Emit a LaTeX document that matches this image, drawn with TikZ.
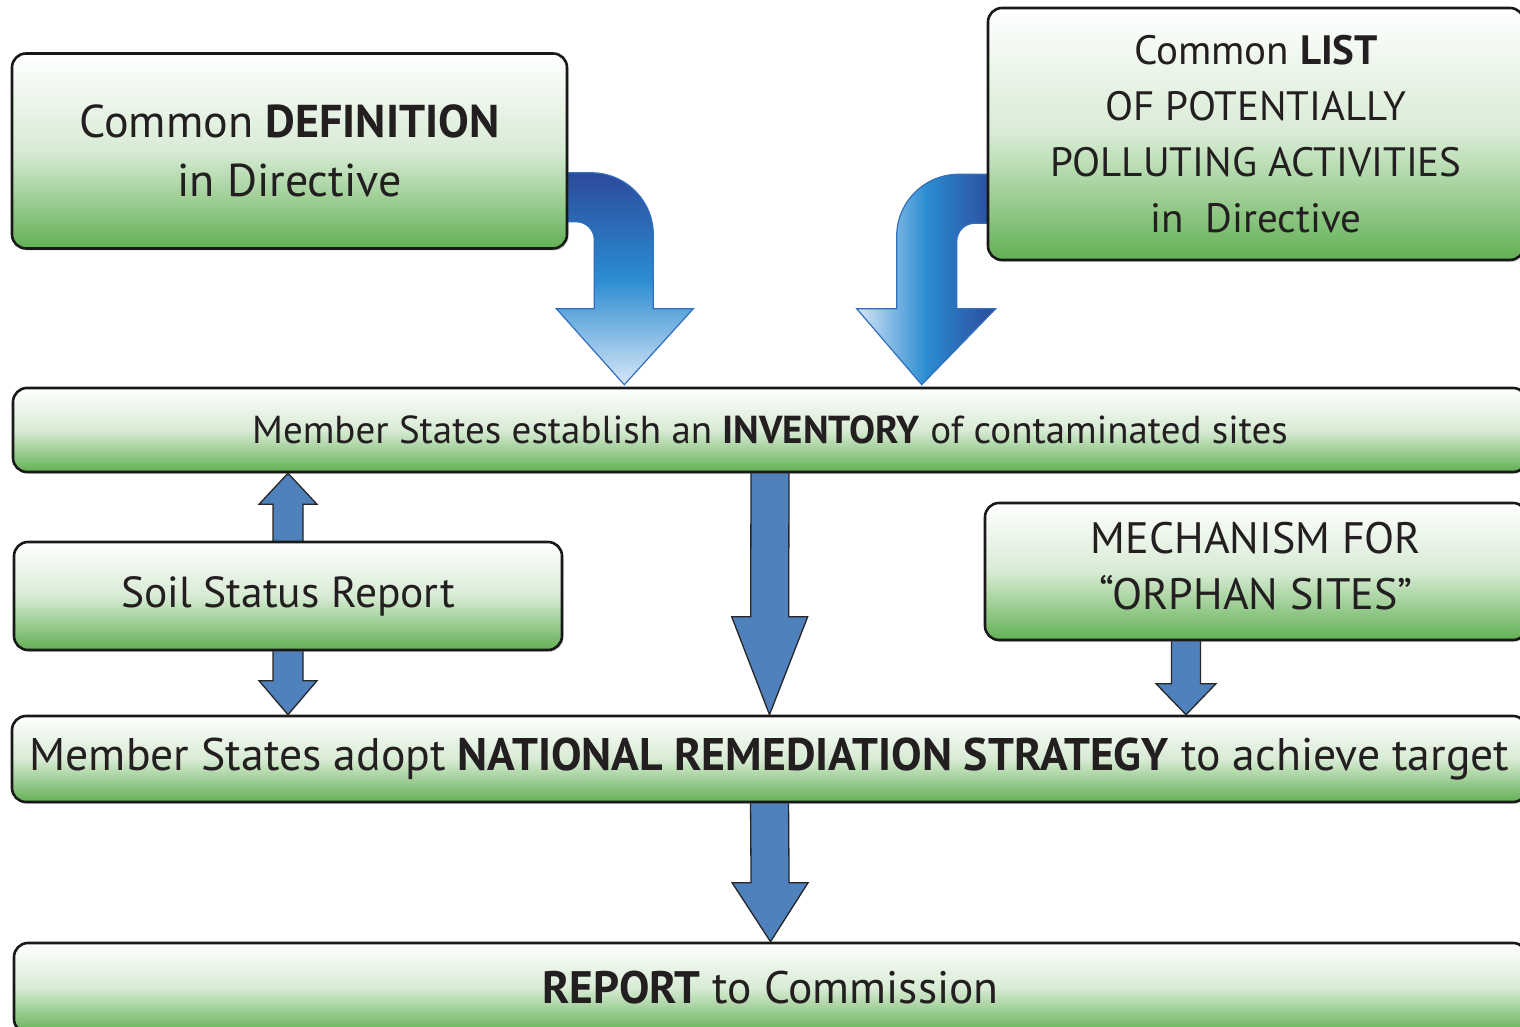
\documentclass[tikz,border=0pt]{standalone}
\usepackage{fontspec}
\setmainfont{PT Sans}
\usetikzlibrary{calc,shadows,backgrounds}

\definecolor{boxgreen}{RGB}{98,176,84}
\definecolor{boxtext}{RGB}{35,31,32}
\definecolor{flowblue}{RGB}{79,129,189}
\definecolor{bendlight}{RGB}{214,230,246}
\definecolor{bendmid}{RGB}{43,140,210}
\definecolor{benddark}{RGB}{44,74,155}
\definecolor{bendedge}{RGB}{50,110,190}

% straight block arrow: from, to, shaft half width, head half width, head length
\newcommand{\blockarrow}[5]{%
  \coordinate (hb) at ($(#2)!#5!(#1)$);
  \draw[flowarrow] ($(#1)+(-#3,0)$) -- ($(hb)+(-#3,0)$) -- ($(hb)+(-#4,0)$) -- (#2)
    -- ($(hb)+(#4,0)$) -- ($(hb)+(#3,0)$) -- ($(#1)+(#3,0)$) -- cycle;}

\begin{document}
\begin{tikzpicture}[x=1pt,y=1pt,
  greenbox/.style={draw=black!90, line width=2.6pt, rounded corners=14pt,
    top color=white, bottom color=boxgreen, middle color=boxgreen!25!white,
    text=boxtext, align=center, inner sep=0pt,
    drop shadow={shadow xshift=1.5pt, shadow yshift=-2pt, opacity=.3}},
  flowarrow/.style={fill=flowblue, draw=black!85, line width=1.3pt},
  bendarrow/.style={draw=bendedge, line width=1.2pt}]

\useasboundingbox (0,0) rectangle (1520,1027);
\clip (0,0) rectangle (1520,1027);

% Directive boxes
\node[greenbox, minimum width=555pt, minimum height=195pt,
  font=\fontsize{46}{59}\selectfont] (def) at (289.5,876)
  {Common \textbf{DEFINITION}\\in Directive};
\node[greenbox, minimum width=536pt, minimum height=252pt,
  font=\fontsize{41}{56}\selectfont] (list) at (1256,893)
  {Common \textbf{LIST}\\OF POTENTIALLY\\POLLUTING ACTIVITIES\\in~ Directive};

% Inventory
\node[greenbox, minimum width=1514pt, minimum height=84pt,
  font=\fontsize{39}{44}\selectfont] (inv) at (770,597)
  {Member States establish an \textbf{INVENTORY} of contaminated sites};

% Side boxes
\node[greenbox, minimum width=548pt, minimum height=108pt,
  font=\fontsize{43.5}{48}\selectfont] (soil) at (288,431) {Soil Status Report};
\node[greenbox, minimum width=542pt, minimum height=137pt, text depth=12pt,
  font=\fontsize{44}{56}\selectfont] (mech) at (1256,455.5)
  {MECHANISM FOR\\“ORPHAN SITES”};

% Strategy and report
\node[greenbox, minimum width=1515pt, minimum height=86pt,
  font=\fontsize{45.7}{50}\selectfont] (nat) at (769.5,268)
  {Member States adopt \textbf{NATIONAL REMEDIATION STRATEGY} to achieve target};
\node[greenbox, minimum width=1513pt, minimum height=90pt,
  font=\fontsize{45.5}{50}\selectfont] (rep) at (770.5,39)
  {\textbf{REPORT} to Commission};

\begin{scope}[on background layer]
% Bent arrows into the inventory
\path[bendarrow, top color=benddark, bottom color=bendlight, middle color=bendmid]
  let \p1=(def.south east), \p2=(inv.north) in
  (\x1-6pt,\y1+77pt) -- (\x1+23pt,\y1+77pt) arc[start angle=90,end angle=0,radius=62pt]
  -- (\x1+85pt,\y2+78pt) -- (\x1+125pt,\y2+78pt) -- (\x1+56pt,\y2+2pt)
  -- (\x1-12pt,\y2+78pt) -- (\x1+26pt,\y2+78pt) -- (\x1+26pt,\y1+10pt)
  arc[start angle=0,end angle=90,radius=18pt] -- (\x1-6pt,\y1+28pt) -- cycle;
\path[bendarrow, left color=bendlight, right color=benddark, middle color=bendmid]
  let \p1=(list.south west), \p2=(inv.north) in
  (\x1+6pt,\y1+87pt) -- (\x1-28pt,\y1+87pt) arc[start angle=90,end angle=180,radius=62pt]
  -- (\x1-90pt,\y2+78pt) -- (\x1-130pt,\y2+78pt) -- (\x1-65pt,\y2+2pt)
  -- (\x1+9pt,\y2+78pt) -- (\x1-30pt,\y2+78pt) -- (\x1-30pt,\y1+20pt)
  arc[start angle=180,end angle=90,radius=18pt] -- (\x1+6pt,\y1+38pt) -- cycle;

% Straight arrows
\coordinate (invA) at ($(inv.south)+(0,3)$);
\blockarrow{invA}{nat.north}{19}{38}{98pt}
\coordinate (natA) at ($(nat.south)+(0,3)$);
\blockarrow{natA}{rep.north}{19}{38}{59pt}
\coordinate (soilA) at ($(soil.north)+(0,-3)$);
\coordinate (soilB) at (soil.north |- inv.south);
\blockarrow{soilA}{soilB}{15}{29}{31pt}
\coordinate (soilC) at ($(soil.south)+(0,3)$);
\coordinate (soilD) at (soil.south |- nat.north);
\blockarrow{soilC}{soilD}{15}{29}{34pt}
\coordinate (mechA) at ($(mech.south)+(-70,3)$);
\coordinate (mechB) at (mechA |- nat.north);
\blockarrow{mechA}{mechB}{14.5}{30}{31pt}
\end{scope}

\end{tikzpicture}
\end{document}
